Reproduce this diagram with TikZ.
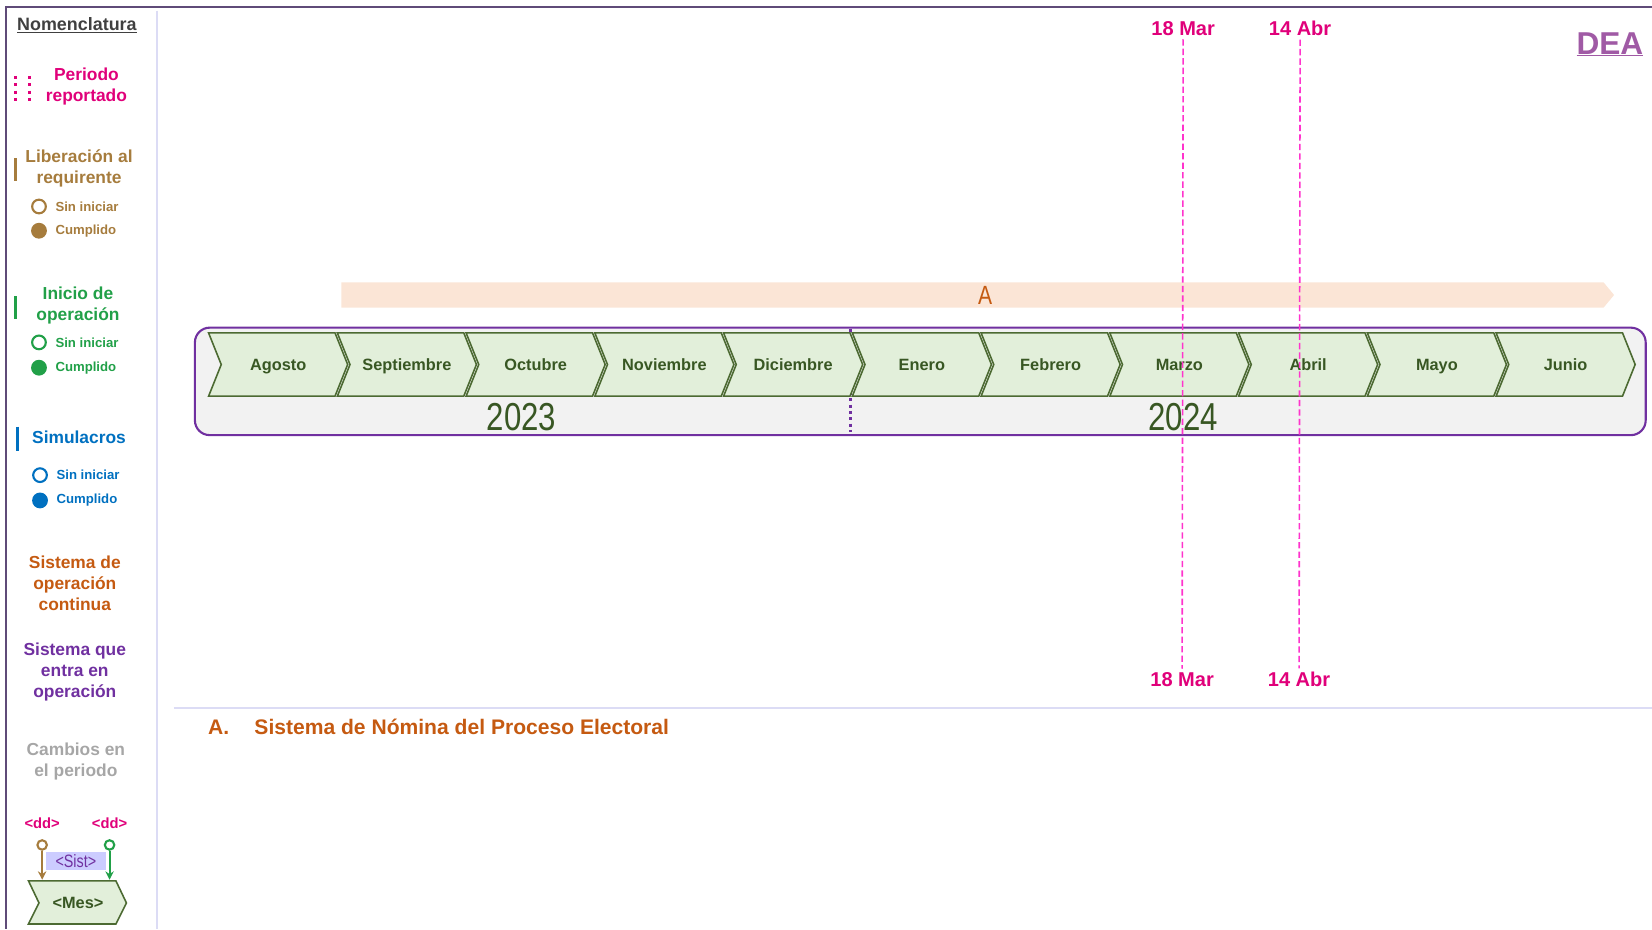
\documentclass[tikz,border=0pt]{standalone}
\usepackage{fontspec}
\setmainfont{Liberation Sans}
\newfontfamily\narrowfont[FakeStretch=0.8]{Liberation Sans}
\usetikzlibrary{positioning,arrows.meta}

\definecolor{marco}{RGB}{95,75,120}
\definecolor{lavanda}{RGB}{220,220,245}
\definecolor{magentaf}{RGB}{224,0,122}
\definecolor{rosa}{RGB}{255,51,204}
\definecolor{cafe}{RGB}{166,124,61}
\definecolor{verdeop}{RGB}{33,160,72}
\definecolor{azul}{RGB}{0,112,192}
\definecolor{naranja}{RGB}{197,90,17}
\definecolor{morado}{RGB}{112,48,160}
\definecolor{gris}{RGB}{166,166,166}
\definecolor{grisosc}{RGB}{64,64,64}
\definecolor{verdeosc}{RGB}{56,87,35}
\definecolor{verdeborde}{RGB}{76,106,50}
\definecolor{verdeclaro}{RGB}{226,239,218}
\definecolor{durazno}{RGB}{251,229,214}
\definecolor{fondo}{RGB}{242,242,242}
\definecolor{dea}{RGB}{160,90,165}
\definecolor{lila}{RGB}{204,204,255}

\newcommand{\tam}[2]{\fontsize{#1}{#2}\selectfont}

\begin{document}
\begin{tikzpicture}[x=1pt,y=-1pt,
    leyenda/.style={font=\bfseries\tam{16.5}{20}, align=center},
    punto/.style={circle, minimum size=13pt, inner sep=0pt, line width=2pt},
    estado/.style={font=\bfseries\tam{12.5}{15}, inner sep=0pt},
    mes/.style={font=\bfseries\tam{15.5}{18}, text=verdeosc, text height=11pt, text depth=0pt},
    chevron/.style={fill=verdeclaro, draw=verdeborde, line width=1.5pt},
    fecha/.style={font=\bfseries\tam{19}{22}, text=magentaf},
    fechaline/.style={draw=rosa, line width=1.5pt, dash pattern=on 6pt off 3pt},
    anio/.style={font=\narrowfont\tam{37}{40}, text=verdeosc},
  ]
  \useasboundingbox (0,0) rectangle (1568,882);

  % Marco y separadores
  \draw[marco, line width=2pt] (5,7) -- (1568,7);
  \draw[marco, line width=2pt] (6,7) -- (6,882);
  \draw[lavanda, line width=1.5pt] (149,10) -- (149,882);
  \draw[lavanda, line width=1.5pt] (165,672) -- (1568,672);

  % Nomenclatura
  \node[font=\bfseries\tam{17}{20}, text=grisosc] (nomen) at (73,24) {\underline{Nomenclatura}};

  % Periodo reportado
  \draw[magentaf, line width=3pt, dash pattern=on 3pt off 4pt] (15,72) -- (15,96);
  \draw[magentaf, line width=3pt, dash pattern=on 3pt off 4pt] (28,72) -- (28,96);
  \node[leyenda, text=magentaf] (periodo) at (82,82) {Periodo\\reportado};

  % Liberacion al requirente
  \draw[cafe, line width=3pt] (15,150) -- (15,172);
  \node[leyenda, text=cafe] (liber) at (75,160) {Liberación al\\requirente};
  \node[punto, draw=cafe] (libsin) at (37,196) {};
  \node[estado, text=cafe, right=8pt of libsin] {Sin iniciar};
  \node[punto, draw=cafe, fill=cafe] (libcum) at (37,219) {};
  \node[estado, text=cafe, right=8pt of libcum] {Cumplido};

  % Inicio de operacion
  \draw[verdeop, line width=3pt] (15,281) -- (15,303);
  \node[leyenda, text=verdeop] (inicio) at (74,290) {Inicio de\\operación};
  \node[punto, draw=verdeop] (inisin) at (37,325) {};
  \node[estado, text=verdeop, right=8pt of inisin] {Sin iniciar};
  \node[punto, draw=verdeop, fill=verdeop] (inicum) at (37,349) {};
  \node[estado, text=verdeop, right=8pt of inicum] {Cumplido};

  % Simulacros
  \draw[azul, line width=3pt] (17,405) -- (17,428);
  \node[leyenda, text=azul] (simul) at (75,415) {Simulacros};
  \node[punto, draw=azul] (simsin) at (38,451) {};
  \node[estado, text=azul, right=8pt of simsin] {Sin iniciar};
  \node[punto, draw=azul, fill=azul] (simcum) at (38,475) {};
  \node[estado, text=azul, right=8pt of simcum] {Cumplido};

  % Tipos de sistema y cambios
  \node[leyenda, text=naranja] (continua) at (71,554) {Sistema de\\operación\\continua};
  \node[leyenda, text=morado] (entra) at (71,638) {Sistema que\\entra en\\operación};
  \node[leyenda, text=gris] (cambios) at (72,723) {Cambios en\\el periodo};

  % Ejemplo de hito
  \node[font=\bfseries\tam{14}{16}, text=magentaf] (dd1) at (40,781) {<dd>};
  \node[font=\bfseries\tam{14}{16}, text=magentaf] (dd2) at (104,781) {<dd>};
  \fill[lila] (44,809) rectangle (101,826);
  \node[font=\narrowfont\tam{17}{20}, text=morado] (sist) at (72,817) {<Sist>};
  \draw[chevron] (27,836) -- (110,836) -- (120,857) -- (110,877) -- (27,877) -- (37,857) -- cycle;
  \node[mes] (mesej) at (74,857) {<Mes>};
  \node[circle, draw=cafe, line width=2pt, minimum size=9pt, inner sep=0pt] (h1) at (40,802) {};
  \node[circle, draw=verdeop, line width=2pt, minimum size=9pt, inner sep=0pt] (h2) at (104,802) {};
  \coordinate (f1) at (40,835);
  \coordinate (f2) at (104,835);
  \draw[cafe, line width=2pt, -{Stealth[length=8pt,width=8pt]}] (h1) -- (f1);
  \draw[verdeop, line width=2pt, -{Stealth[length=8pt,width=8pt]}] (h2) -- (f2);

  % DEA
  \node[font=\bfseries\tam{30}{34}, text=dea] (dea) at (1528,42) {\underline{DEA}};

  % Caja de meses
  \draw[morado, line width=2pt, fill=fondo, rounded corners=14pt] (185,311) rectangle (1562,413);
  \draw[morado, line width=2.5pt, dash pattern=on 3pt off 3pt] (807,312) -- (807,410);

  % Meses
  \foreach \m [count=\i from 0] in {Agosto,Septiembre,Octubre,Noviembre,Diciembre,Enero,Febrero,Marzo,Abril,Mayo,Junio} {
    \pgfmathsetmacro{\xo}{198+122.2*\i}
    \draw[chevron] (\xo,316) -- ++(120,0) -- ++(12,30) -- ++(-12,30) -- ++(-120,0) -- ++(12,-30) -- cycle;
    \node[mes] (mes\i) at (\xo+66,346) {\m};
  }

  \node[anio] (a2023) at (495,396) {2023};
  \node[anio] (a2024) at (1123,396) {2024};

  % Barra del sistema A
  \fill[durazno] (324,268) -- (1522,268) -- (1532,280) -- (1522,292) -- (324,292) -- cycle;
  \node[font=\narrowfont\tam{25}{28}, text=naranja] (barA) at (935,280) {A};

  % Periodo reportado
  \node[fecha] (ini) at (1123,27) {18 Mar};
  \node[fecha] (fin) at (1234,27) {14 Abr};
  \node[fecha] (inib) at (1122,645) {18 Mar};
  \node[fecha] (finb) at (1233,645) {14 Abr};
  \draw[fechaline] (ini.south) -- (inib.north);
  \draw[fechaline] (fin.south) -- (finb.north);

  % Descripcion
  \node[font=\bfseries\tam{20}{23}, text=naranja, anchor=west] (letA) at (194,690) {A.};
  \node[font=\bfseries\tam{20}{23}, text=naranja, anchor=west] (sisA) at (238,690) {Sistema de Nómina del Proceso Electoral};

\end{tikzpicture}
\end{document}
